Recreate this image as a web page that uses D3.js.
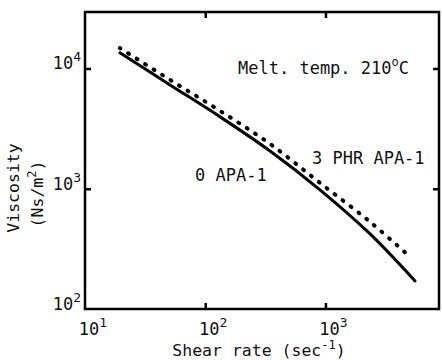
<!DOCTYPE html>
<html>
<head>
<meta charset="utf-8">
<script src="https://cdn.jsdelivr.net/npm/d3@7"></script>
<style>
  body { margin: 0; background: #fff; }
  text { font-family: "DejaVu Sans Mono", monospace; fill: #111; }
</style>
</head>
<body>
<div id="chart"></div>
<script>
  // shear rate (1/s) and viscosity (Ns/m2)
  var shearRate0 = [19.5, 51, 133, 346, 900, 2350, 5560];
  var viscosity0 = [13500, 7300, 3960, 2060, 980, 421, 171];

  var shearRate3 = [19.5, 51, 133, 346, 900, 2350, 5060];
  var viscosity3 = [14800, 8040, 4440, 2360, 1120, 530, 271];

  var xTicks = [10, 100, 1000];
  var yTicks = [100, 1000, 10000];

(function(d3) {
  'use strict';

  var width = 442, height = 360;
  var left = 85, right = 439, top = 12, bottom = 309;

  var x = d3.scaleLog().domain([10, 8800]).range([left, right]);
  var y = d3.scaleLog().domain([100, 29500]).range([bottom, top]);

  var svg = d3.select('#chart').append('svg')
    .attr('width', width)
    .attr('height', height);

  // inward ticks on all four sides
  var tickLen = 6;
  svg.append('g').attr('transform', 'translate(0,' + bottom + ')')
    .call(d3.axisBottom(x).tickValues([100, 1000]).tickSize(-tickLen).tickFormat(''));
  svg.append('g').attr('transform', 'translate(0,' + top + ')')
    .call(d3.axisTop(x).tickValues([100, 1000]).tickSize(-tickLen).tickFormat(''));
  svg.append('g').attr('transform', 'translate(' + left + ',0)')
    .call(d3.axisLeft(y).tickValues([1000, 10000]).tickSize(-tickLen).tickFormat(''));
  svg.append('g').attr('transform', 'translate(' + right + ',0)')
    .call(d3.axisRight(y).tickValues([1000, 10000]).tickSize(-tickLen).tickFormat(''));
  svg.selectAll('.domain').remove();
  svg.selectAll('.tick line').attr('stroke', '#000').attr('stroke-width', 2.5);

  svg.append('rect')
    .attr('x', left).attr('y', top)
    .attr('width', right - left).attr('height', bottom - top)
    .attr('fill', 'none').attr('stroke', '#000').attr('stroke-width', 2.5);

  // tick labels 10^n
  function powLabel(sel, n) {
    sel.append('tspan').text('10');
    sel.append('tspan').attr('dy', -8).attr('font-size', 13).text(n);
  }

  xTicks.forEach(function(v) {
    var t = svg.append('text')
      .attr('x', x(v) + 8).attr('y', 335)
      .attr('text-anchor', 'middle')
      .attr('font-size', 17);
    powLabel(t, Math.round(Math.log10(v)));
  });

  yTicks.forEach(function(v) {
    var t = svg.append('text')
      .attr('x', left - 4).attr('y', y(v) + 1)
      .attr('text-anchor', 'end')
      .attr('font-size', 17);
    powLabel(t, Math.round(Math.log10(v)));
  });

  // axis titles
  var xt = svg.append('text')
    .attr('x', 259).attr('y', 356)
    .attr('text-anchor', 'middle')
    .attr('font-size', 16.5);
  xt.append('tspan').text('Shear rate (sec');
  xt.append('tspan').attr('dy', -7).attr('font-size', 12).text('-1');
  xt.append('tspan').attr('dy', 7).text(')');

  svg.append('text')
    .attr('transform', 'translate(19,188) rotate(-90)')
    .attr('text-anchor', 'middle')
    .attr('font-size', 16.5)
    .text('Viscosity');

  var yt = svg.append('text')
    .attr('transform', 'translate(43,194) rotate(-90)')
    .attr('text-anchor', 'middle')
    .attr('font-size', 16.5);
  yt.append('tspan').text('(Ns/m');
  yt.append('tspan').attr('dy', -7).attr('font-size', 12).text('2');
  yt.append('tspan').attr('dy', 7).text(')');

  // curves
  var line = d3.line()
    .x(function(d) { return x(d[0]); })
    .y(function(d) { return y(d[1]); })
    .curve(d3.curveCatmullRom.alpha(0.5));

  svg.append('path')
    .datum(d3.zip(shearRate0, viscosity0))
    .attr('d', line)
    .attr('fill', 'none')
    .attr('stroke', '#000')
    .attr('stroke-width', 3)
    .attr('stroke-linecap', 'round');

  svg.append('path')
    .datum(d3.zip(shearRate3, viscosity3))
    .attr('d', line)
    .attr('fill', 'none')
    .attr('stroke', '#000')
    .attr('stroke-width', 4)
    .attr('stroke-linecap', 'round')
    .attr('stroke-dasharray', '1,9');

  // annotations
  var melt = svg.append('text')
    .attr('x', 238).attr('y', 74)
    .attr('font-size', 17);
  melt.append('tspan').text('Melt. temp. 210');
  melt.append('tspan').attr('dy', -8).attr('font-size', 12).text('o');
  melt.append('tspan').attr('dy', 8).text('C');

  svg.append('text')
    .attr('x', 312).attr('y', 164)
    .attr('font-size', 17)
    .text('3 PHR APA-1');

  svg.append('text')
    .attr('x', 195).attr('y', 181)
    .attr('font-size', 17)
    .text('0 APA-1');

})(window.d3);
</script>
</body>
</html>
